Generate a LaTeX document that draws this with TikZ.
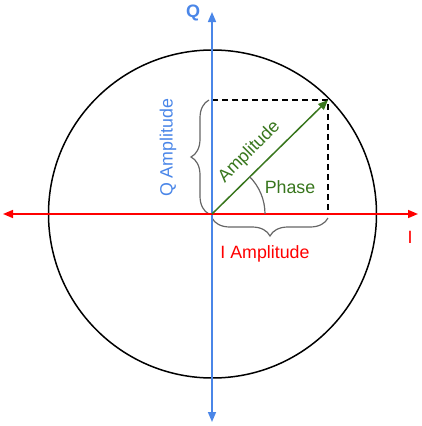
\documentclass[tikz,border=0pt]{standalone}
\usepackage{fontspec}
\setmainfont{Liberation Sans}
\usetikzlibrary{arrows.meta,decorations.pathreplacing}
\definecolor{qblue}{HTML}{4A86E8}
\definecolor{ired}{HTML}{FF0000}
\definecolor{agreen}{HTML}{38761D}
\definecolor{bgray}{HTML}{666666}
\tikzset{
  axisline/.style={line width=1.5pt,-{Triangle[length=10pt,width=8pt]}},
  dashline/.style={line width=1.4pt,dash pattern=on 6pt off 4pt},
  bracestyle/.style={bgray,line width=1.2pt,decorate,decoration={brace,amplitude=18pt}},
  lbl/.style={font=\fontsize{17.8}{20}\selectfont,inner sep=0pt}
}
\begin{document}
\begin{tikzpicture}[x=1pt,y=-1pt]
\useasboundingbox (0,0) rectangle (421,426);
\coordinate (O) at (212,214);
\coordinate (P) at (328,100);
\coordinate (C) at (212.5,214);
\coordinate (Qtop) at (212,100);
\coordinate (Ibot) at (328,214);
\coordinate (Ltip) at (3,214);
\coordinate (Rtip) at (418,214);
\coordinate (Ttip) at (212,12);
\coordinate (Btip) at (212,422);
% circle
\draw[line width=1.5pt] (C) circle[radius=164];
% dashed projections
\draw[dashline] (Qtop) -- (P) -- (Ibot);
% braces
\draw[bracestyle] (209,214) -- (209,100);
\draw[bracestyle] (328,218) -- (212,218);
% axes
\draw[axisline,qblue] (O) -- (Ttip);
\draw[axisline,qblue] (O) -- (Btip);
\draw[axisline,ired] (O) -- (Rtip);
\draw[axisline,ired] (O) -- (Ltip);
% amplitude vector
\draw[agreen,line width=1.5pt,-{Triangle[length=10pt,width=8pt]}] (O) -- (P);
% phase arc
\draw[bgray,line width=1.2pt] ([xshift=53pt]O) arc[start angle=0,end angle=-45,radius=53];
% labels
\node[lbl,qblue,font=\fontsize{18}{20}\selectfont\bfseries] (Qlab) at (193,13) {Q};
\node[lbl,ired] (Ilab) at (410,237) {I};
\node[lbl,qblue,rotate=90] (Qamp) at (168,148) {Q Amplitude};
\node[lbl,ired] (Iamp) at (265,254) {I Amplitude};
\node[lbl,agreen,rotate=45] (Amp) at (249.5,152) {Amplitude};
\node[lbl,agreen] (Phase) at (290,187) {Phase};
\end{tikzpicture}
\end{document}
